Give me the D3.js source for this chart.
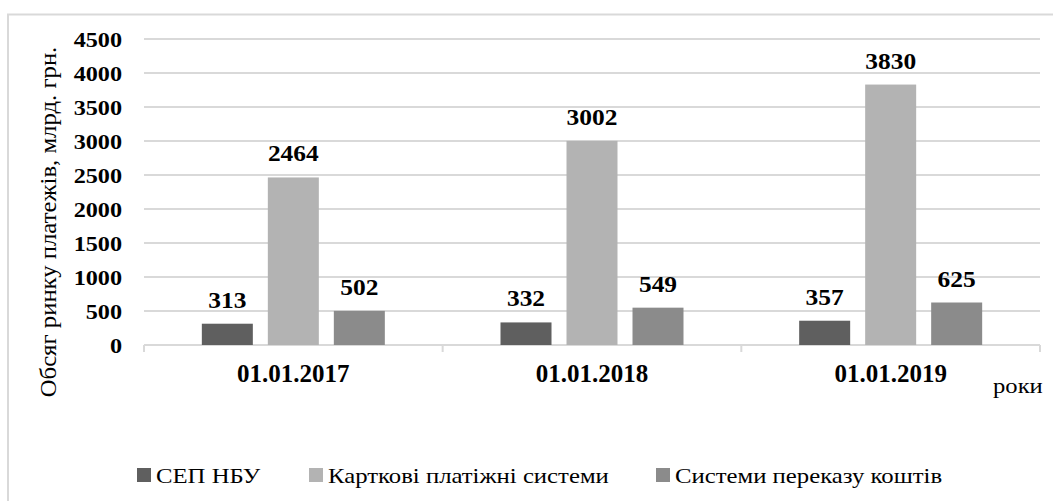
<!DOCTYPE html>
<html>
<head>
<meta charset="utf-8">
<script src="https://cdn.jsdelivr.net/npm/d3@7"></script>
<style>
  html, body { margin: 0; padding: 0; background: #fff; }
  svg { display: block; }
  svg text { font-family: "Liberation Serif", "Times New Roman", Tinos, serif; fill: #000; }
</style>
</head>
<body>
<svg id="chart" width="1053" height="501"></svg>
<script>
// Payment market volume by system, bn UAH
const categories = ["01.01.2017", "01.01.2018", "01.01.2019"];
const seriesNames = ["СЕП НБУ", "Карткові платіжні системи", "Системи переказу коштів"];
const sepNbu = [313, 332, 357];
const cardSystems = [2464, 3002, 3830];
const transferSystems = [502, 549, 625];
const yTicks = [0, 500, 1000, 1500, 2000, 2500, 3000, 3500, 4000, 4500];
const yTitle = "Обсяг ринку платежів, млрд. грн.";
const xTitle = "роки";

const seriesValues = [sepNbu, cardSystems, transferSystems];
const colors = ["#5f5f5f", "#b3b3b3", "#8b8b8b"];

const svg = d3.select("#chart");

// text placed by transform so it can be widened slightly along its run
function place(sel, x, y, sx, rot) {
  return sel.attr("transform", d => {
    const px = typeof x === "function" ? x(d) : x;
    const py = typeof y === "function" ? y(d) : y;
    return `translate(${px},${py})` + (rot ? ` rotate(${rot})` : "") + ` scale(${sx},1)`;
  });
}

// outer frame
svg.append("rect")
  .attr("x", 8).attr("y", 14.5)
  .attr("width", 1100).attr("height", 600)
  .attr("fill", "none").attr("stroke", "#d9d9d9").attr("stroke-width", 2);

const plot = { left: 144, right: 1040, top: 39, bottom: 345 };

const x0 = d3.scaleBand().domain(categories).range([plot.left, plot.right]).padding(0);
const groupW = 198;
const x1 = d3.scaleBand().domain(d3.range(seriesNames.length)).range([0, groupW])
  .paddingInner(15 / 66).paddingOuter(7.5 / 66);
const y = d3.scaleLinear().domain([0, 4500]).range([plot.bottom, plot.top]);

// gridlines
svg.append("g").selectAll("line")
  .data(yTicks.filter(t => t > 0))
  .join("line")
  .attr("x1", plot.left).attr("x2", plot.right)
  .attr("y1", d => y(d)).attr("y2", d => y(d))
  .attr("stroke", "#d9d9d9").attr("stroke-width", 2);

// y tick labels
const yAxis = d3.axisLeft(y).tickValues(yTicks).tickSize(0).tickPadding(0).tickFormat(d3.format("d"));
const gy = svg.append("g").attr("transform", `translate(122,0)`).call(yAxis);
gy.attr("font-family", null).attr("font-size", null);
gy.select(".domain").remove();
gy.selectAll(".tick text")
  .attr("x", 0).attr("dy", "0.34em")
  .attr("font-size", 22).attr("font-weight", "bold")
  .attr("transform", "scale(1.1,1)");

// x axis baseline with boundary ticks
const gx = svg.append("g");
gx.append("line")
  .attr("x1", plot.left).attr("x2", plot.right)
  .attr("y1", plot.bottom).attr("y2", plot.bottom)
  .attr("stroke", "#d9d9d9").attr("stroke-width", 2);
const bounds = categories.map(c => x0(c)).concat([x0(categories[categories.length - 1]) + x0.bandwidth()]);
gx.selectAll("line.tk").data(bounds).join("line").attr("class", "tk")
  .attr("x1", d => d).attr("x2", d => d)
  .attr("y1", plot.bottom).attr("y2", plot.bottom + 7)
  .attr("stroke", "#d9d9d9").attr("stroke-width", 2);

// category labels
place(gx.selectAll("text.cat").data(categories).join("text").attr("class", "cat"),
      d => x0(d) + x0.bandwidth() / 2, 382, 1.0)
  .attr("text-anchor", "middle")
  .attr("font-size", 25).attr("font-weight", "bold")
  .text(d => d);

// bars
const groups = svg.append("g").selectAll("g")
  .data(categories)
  .join("g")
  .attr("transform", d => `translate(${x0(d) + x0.bandwidth() / 2 - groupW / 2},0)`);

const cells = (c, ci) => seriesValues.map((vals, si) => ({ si, v: vals[ci] }));

groups.selectAll("rect")
  .data(cells)
  .join("rect")
  .attr("x", d => x1(d.si))
  .attr("width", x1.bandwidth())
  .attr("y", d => y(d.v))
  .attr("height", d => y(0) - y(d.v))
  .attr("fill", d => colors[d.si]);

// value labels
place(groups.selectAll("text").data(cells).join("text"),
      d => x1(d.si) + x1.bandwidth() / 2, d => y(d.v) - 16, 1.06)
  .attr("text-anchor", "middle")
  .attr("font-size", 24).attr("font-weight", "bold")
  .text(d => d.v);

// axis titles
place(svg.append("text"), 56, 222, 1.03, -90)
  .attr("text-anchor", "middle")
  .attr("font-size", 24)
  .text(yTitle);

place(svg.append("text"), 993, 393, 1.12)
  .attr("font-size", 22)
  .text(xTitle);

// legend
const legendX = [137, 309, 656];
const leg = svg.append("g").selectAll("g").data(seriesNames).join("g")
  .attr("transform", (d, i) => `translate(${legendX[i]},0)`);
leg.append("rect")
  .attr("x", 0).attr("y", 468).attr("width", 14).attr("height", 14)
  .attr("fill", (d, i) => colors[i]);
place(leg.append("text"), 19, 482.5, 1.125)
  .attr("font-size", 22)
  .text(d => d);
</script>
</body>
</html>
